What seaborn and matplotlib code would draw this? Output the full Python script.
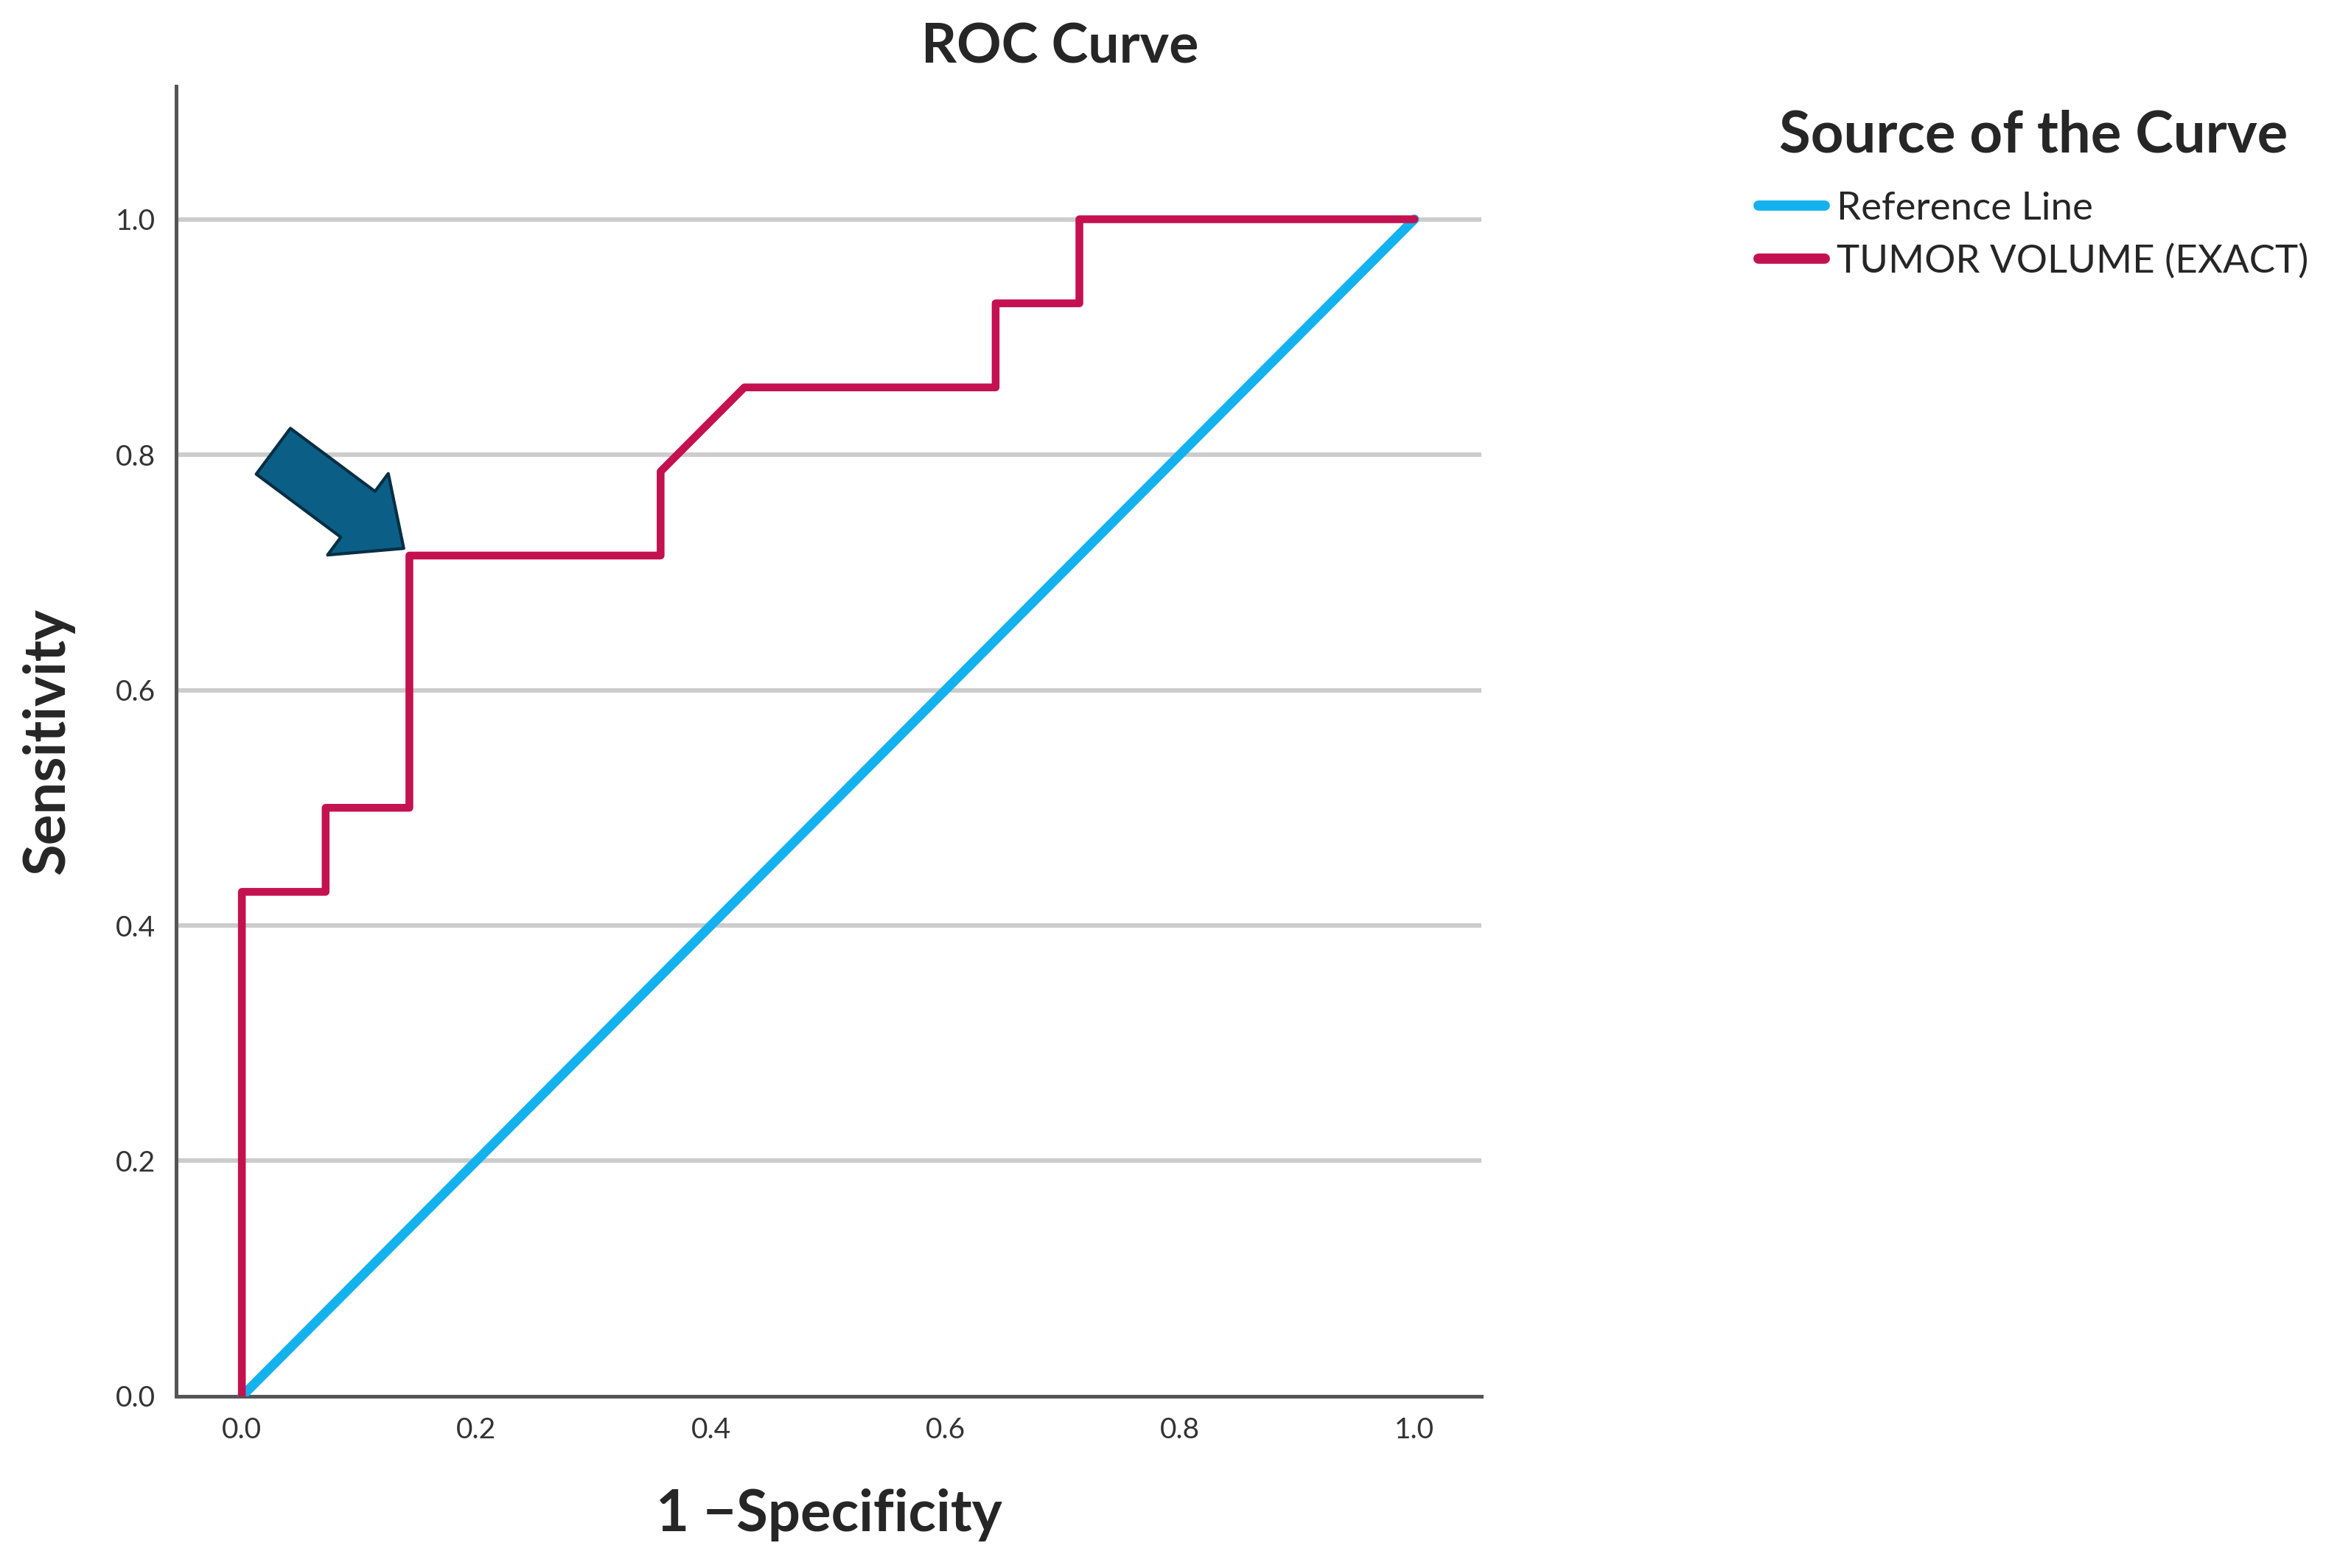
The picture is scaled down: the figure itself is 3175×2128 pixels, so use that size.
import pandas as pd
import seaborn as sns
import matplotlib.pyplot as plt

# ROC data (14 negatives / 14 positives)
fpr = [0.0, 0.0, 1/14, 1/14, 2/14, 2/14, 5/14, 5/14, 6/14, 9/14, 9/14, 10/14, 10/14, 1.0]
tpr = [0.0, 6/14, 6/14, 7/14, 7/14, 10/14, 10/14, 11/14, 12/14, 12/14, 13/14, 13/14, 1.0, 1.0]
ref_x = [0.0, 1.0]
ref_y = [0.0, 1.0]
series = ['Reference Line', 'TUMOR VOLUME (EXACT)']
colors = ['#13b2ef', '#c4114f']
ticks = [0.0, 0.2, 0.4, 0.6, 0.8, 1.0]

df = pd.concat([
    pd.DataFrame({'x': ref_x, 'y': ref_y, 'src': series[0]}),
    pd.DataFrame({'x': fpr, 'y': tpr, 'src': series[1]}),
])

sns.set_style('white')
plt.rcParams['font.family'] = ['Lato', 'DejaVu Sans']

fig = plt.figure(figsize=(15.875, 10.64), dpi=200)
ax = fig.add_axes([0.0753, 0.1095, 0.5577, 0.8355])

for name, col, lw in zip(series, colors, [4.6, 3.8]):
    d = df[df['src'] == name]
    sns.lineplot(data=d, x='x', y='y', sort=False, estimator=None, color=col,
                 linewidth=lw, ax=ax, label=name, zorder=3)

ax.set_xlim(-0.056, 1.057)
ax.set_ylim(0, 1.113)
ax.set_xticks(ticks)
ax.set_yticks(ticks)
ax.set_xticklabels([f'{t:.1f}' for t in ticks], fontsize=14, color='#333333')
ax.set_yticklabels([f'{t:.1f}' for t in ticks], fontsize=14, color='#333333')
ax.tick_params(length=0, pad=10)
for t in ticks[1:]:
    ax.axhline(t, color='#cccccc', linewidth=2.2, zorder=1)

for s in ['top', 'right']:
    ax.spines[s].set_visible(False)
for s in ['left', 'bottom']:
    ax.spines[s].set_color('#555555')
    ax.spines[s].set_linewidth(1.8)

ax.set_xlabel('1 \u2212Specificity', fontsize=28, fontweight='bold', labelpad=22)
ax.set_ylabel('Sensitivity', fontsize=28, fontweight='bold', labelpad=20)

fig.text(0.453, 0.97, 'ROC Curve', fontsize=27, fontweight='bold', ha='center', va='center')

# arrow pointing at the chosen cut-off
ax.annotate('', xy=(2/14 - 0.002, 10/14 + 0.004), xytext=(0.024, 0.805),
            arrowprops=dict(arrowstyle='simple,head_length=0.9,head_width=1.6,tail_width=0.9',
                            facecolor='#0b5f87', edgecolor='#062f45', linewidth=1.5,
                            mutation_scale=31), zorder=5)

handles, labels = ax.get_legend_handles_labels()
leg = ax.legend(handles, labels, title='Source of the Curve', loc='upper left',
                bbox_to_anchor=(0.745, 0.94), bbox_transform=fig.transFigure,
                frameon=False, fontsize=19, title_fontsize=28, handlelength=1.7,
                handletextpad=0.3, labelspacing=0.45, borderaxespad=0)
leg.get_title().set_fontweight('bold')
leg._legend_box.sep = 14
for h in leg.legend_handles:
    h.set_linewidth(5)

fig.savefig('out.png', dpi=200)
